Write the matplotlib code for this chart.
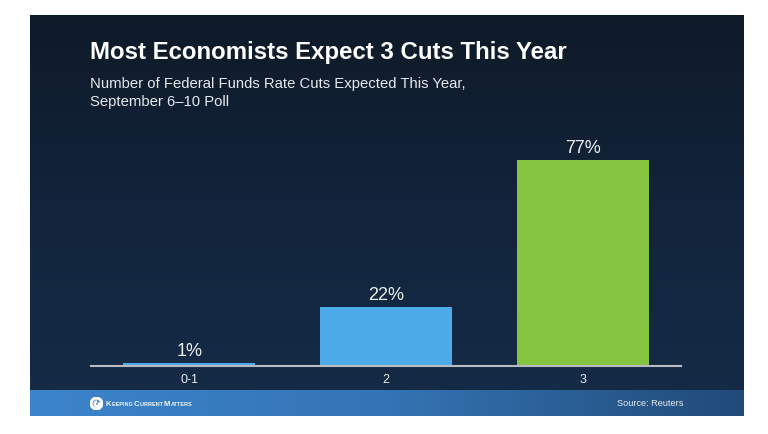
import numpy as np
import matplotlib
matplotlib.use("Agg")
import matplotlib.pyplot as plt
from matplotlib.colors import LinearSegmentedColormap
from matplotlib.patches import Wedge
from matplotlib.offsetbox import TextArea, HPacker, AnchoredOffsetbox

categories = ["0-1", "2", "3"]
values = [1, 22, 77]
bar_colors = ["#4daae8", "#4daae8", "#84c441"]
title = "Most Economists Expect 3 Cuts This Year"
subtitle = "Number of Federal Funds Rate Cuts Expected This Year,\nSeptember 6\u201310 Poll"
source = "Source: Reuters"
brand_words = ["Keeping", "Current", "Matters"]

W, H = 768, 434
plt.rcParams['font.family'] = ['Liberation Sans', 'DejaVu Sans']
fig = plt.figure(figsize=(W / 100, H / 100), dpi=100)
fig.patch.set_facecolor("white")

def fx(px):
    return px / W

def fy(py):
    return 1 - py / H

# Dark panel background with vertical gradient
px0, px1, py0, py1 = 30, 744, 15, 416
bg = fig.add_axes([fx(px0), fy(py1), fx(px1 - px0), (py1 - py0) / H])
bg.set_axis_off()
cm_bg = LinearSegmentedColormap.from_list("bg", ["#0e1a28", "#12253c", "#152b47"])
grad = np.linspace(0, 1, 256).reshape(-1, 1)
bg.imshow(grad, aspect="auto", cmap=cm_bg, extent=[0, 1, 0, 1], origin="upper")
bg.set_xlim(0, 1); bg.set_ylim(0, 1)

# Footer band with horizontal gradient
fb = fig.add_axes([fx(px0), fy(py1), fx(px1 - px0), (py1 - 390) / H])
fb.set_axis_off()
cm_ft = LinearSegmentedColormap.from_list("ft", ["#3c84cc", "#3474b4", "#204a78"])
hgrad = np.linspace(0, 1, 256).reshape(1, -1)
fb.imshow(hgrad, aspect="auto", cmap=cm_ft, extent=[0, 1, 0, 1])
fb.set_xlim(0, 1); fb.set_ylim(0, 1)

# Chart axes
ax = fig.add_axes([fx(91), fy(366), fx(681 - 91), 267.5 / H])
ax.set_facecolor("none")
x = np.arange(len(categories))
bars = ax.bar(x, values, width=0.67, color=bar_colors, zorder=2)
ax.set_xlim(-0.5, 2.5)
ax.set_ylim(0, 100)
for s in ["top", "right", "left"]:
    ax.spines[s].set_visible(False)
ax.spines["bottom"].set_color("#b8bcc2")
ax.spines["bottom"].set_linewidth(1.5)
ax.spines["bottom"].set_zorder(3)
ax.set_yticks([])
ax.set_xticks(x)
ax.set_xticklabels(categories, color="#e8ecf0", fontsize=9)
ax.tick_params(axis="x", length=0, pad=6)
for b, v in zip(bars, values):
    ax.annotate(f"{v}%", (b.get_x() + b.get_width() / 2, v),
                xytext=(0, 2.5), textcoords="offset points",
                ha="center", va="bottom", color="#eef0f2", fontsize=13)

# Titles
fig.text(fx(90), fy(53), title, color="white", fontsize=17.3, fontweight="bold",
         ha="left", va="center")
fig.text(fx(90), fy(93), subtitle, color="#e6e9ee", fontsize=10.7,
         ha="left", va="center", linespacing=1.35)

# Footer texts
fig.text(fx(683), fy(404), source, color="#e8ecf0", fontsize=6.6, ha="right", va="center")

# Brand in small caps
parts = []
for i, w in enumerate(brand_words):
    parts.append(TextArea(w[0], textprops=dict(color="#eef4fa", fontsize=5.6, fontweight="bold")))
    rest = w[1:].upper() + (" " if i < len(brand_words) - 1 else "")
    parts.append(TextArea(rest, textprops=dict(color="#eef4fa", fontsize=4.0, fontweight="bold")))
pk = HPacker(children=parts, align="baseline", pad=0, sep=0)
ab = AnchoredOffsetbox(loc="center left", child=pk, pad=0, frameon=False,
                       bbox_to_anchor=(fx(106), fy(404)), bbox_transform=fig.transFigure,
                       borderpad=0)
fig.add_artist(ab)

logo = fig.add_axes([fx(90), fy(410), fx(13), 13 / H])
logo.set_axis_off()
logo.set_xlim(-1, 1); logo.set_ylim(-1, 1); logo.set_aspect("equal")
logo.add_patch(Wedge((0, 0), 0.95, 0, 360, width=0.25, color="white"))
logo.add_patch(Wedge((0.08, -0.05), 0.45, 100, 380, width=0.2, color="white"))

fig.savefig("out.png", dpi=100, facecolor=fig.get_facecolor())
